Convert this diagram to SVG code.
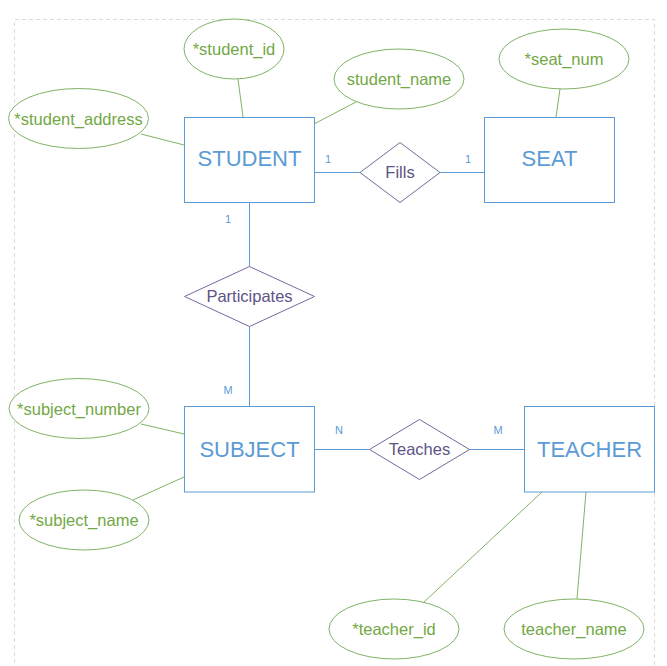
<svg xmlns="http://www.w3.org/2000/svg" width="667" height="666" viewBox="0 0 667 666">
<style>
.attr ellipse{fill:#fff;stroke:#82b366;stroke-width:1}
.attr text{fill:#72a845;font-family:"Liberation Sans",Arial,sans-serif;font-size:16.5px;text-anchor:middle}
.ent rect{fill:#fff;stroke:#5b9bd5;stroke-width:1}
.ent text{fill:#5b9bd5;font-family:"Liberation Sans",Arial,sans-serif;font-size:22px;text-anchor:middle}
.rel polygon{fill:#fff;stroke:#736a9c;stroke-width:1}
.rel text{fill:#5e5486;font-family:"Liberation Sans",Arial,sans-serif;font-size:16.5px;text-anchor:middle}
.ga{stroke:#82b366;stroke-width:1;fill:none}
.ge{stroke:#5b9bd5;stroke-width:1;fill:none}
.card{fill:#5b9bd5;font-family:"Liberation Sans",Arial,sans-serif;font-size:11px;text-anchor:middle}
</style>
<rect width="667" height="666" fill="#fff"/>
<path d="M14.5 670 V19.5 H654.5 V670" fill="none" stroke="#dcdcdc" stroke-dasharray="4 3"/>
<g id="connectors">
<line class="ga" x1="238" y1="79" x2="243" y2="117"/>
<line class="ga" x1="141" y1="134" x2="184" y2="145"/>
<line class="ga" x1="356" y1="102" x2="314" y2="124"/>
<line class="ga" x1="560" y1="89" x2="556" y2="117"/>
<line class="ga" x1="141" y1="424" x2="184" y2="434"/>
<line class="ga" x1="133" y1="500" x2="184" y2="477"/>
<line class="ga" x1="424" y1="602" x2="542" y2="492"/>
<line class="ga" x1="577" y1="599" x2="586" y2="492"/>
<line class="ge" x1="314" y1="172.5" x2="360" y2="172.5"/>
<line class="ge" x1="440" y1="172.5" x2="484" y2="172.5"/>
<line class="ge" x1="249.5" y1="202" x2="249.5" y2="267"/>
<line class="ge" x1="249.5" y1="327" x2="249.5" y2="406"/>
<line class="ge" x1="314" y1="449.5" x2="369" y2="449.5"/>
<line class="ge" x1="469" y1="449.5" x2="524" y2="449.5"/>
<text class="card" x="328" y="163">1</text>
<text class="card" x="468" y="163">1</text>
<text class="card" x="228" y="223">1</text>
<text class="card" x="228" y="394">M</text>
<text class="card" x="339" y="434">N</text>
<text class="card" x="498" y="434">M</text>
</g>
<g id="student" class="ent"><rect x="184.5" y="117.5" width="130" height="85"/><text x="249.5" y="166">STUDENT</text></g>
<g id="seat" class="ent"><rect x="484.5" y="117.5" width="130" height="85"/><text x="549.5" y="166">SEAT</text></g>
<g id="subject" class="ent"><rect x="184.5" y="406.5" width="130" height="85.5"/><text x="249.5" y="456.5">SUBJECT</text></g>
<g id="teacher" class="ent"><rect x="524.5" y="406.5" width="130" height="85.5"/><text x="589.5" y="456.5">TEACHER</text></g>
<g id="fills" class="rel"><polygon points="400,142.5 440,172.5 400,202.5 360,172.5"/><text x="400" y="178">Fills</text></g>
<g id="participates" class="rel"><polygon points="249.5,266.5 314.5,296.5 249.5,326.5 184.5,296.5"/><text x="249.5" y="302">Participates</text></g>
<g id="teaches" class="rel"><polygon points="419.5,419.5 469.5,449.5 419.5,479.5 369.5,449.5"/><text x="419.5" y="455">Teaches</text></g>
<g id="student_id" class="attr"><ellipse cx="234" cy="49" rx="50" ry="30"/><text x="234" y="54.5">*student_id</text></g>
<g id="student_address" class="attr"><ellipse cx="78.5" cy="118.5" rx="70" ry="30"/><text x="78.5" y="124.5">*student_address</text></g>
<g id="student_name" class="attr"><ellipse cx="399" cy="79" rx="65" ry="30"/><text x="399" y="84.5">student_name</text></g>
<g id="seat_num" class="attr"><ellipse cx="564" cy="59" rx="65" ry="30"/><text x="564" y="64.5">*seat_num</text></g>
<g id="subject_number" class="attr"><ellipse cx="79" cy="408.5" rx="70" ry="30"/><text x="79" y="414.5">*subject_number</text></g>
<g id="subject_name" class="attr"><ellipse cx="84" cy="520" rx="65" ry="30"/><text x="84" y="526">*subject_name</text></g>
<g id="teacher_id" class="attr"><ellipse cx="394" cy="629" rx="65" ry="30"/><text x="394" y="634.5">*teacher_id</text></g>
<g id="teacher_name" class="attr"><ellipse cx="574" cy="629" rx="70" ry="30"/><text x="574" y="634.5">teacher_name</text></g>
</svg>
